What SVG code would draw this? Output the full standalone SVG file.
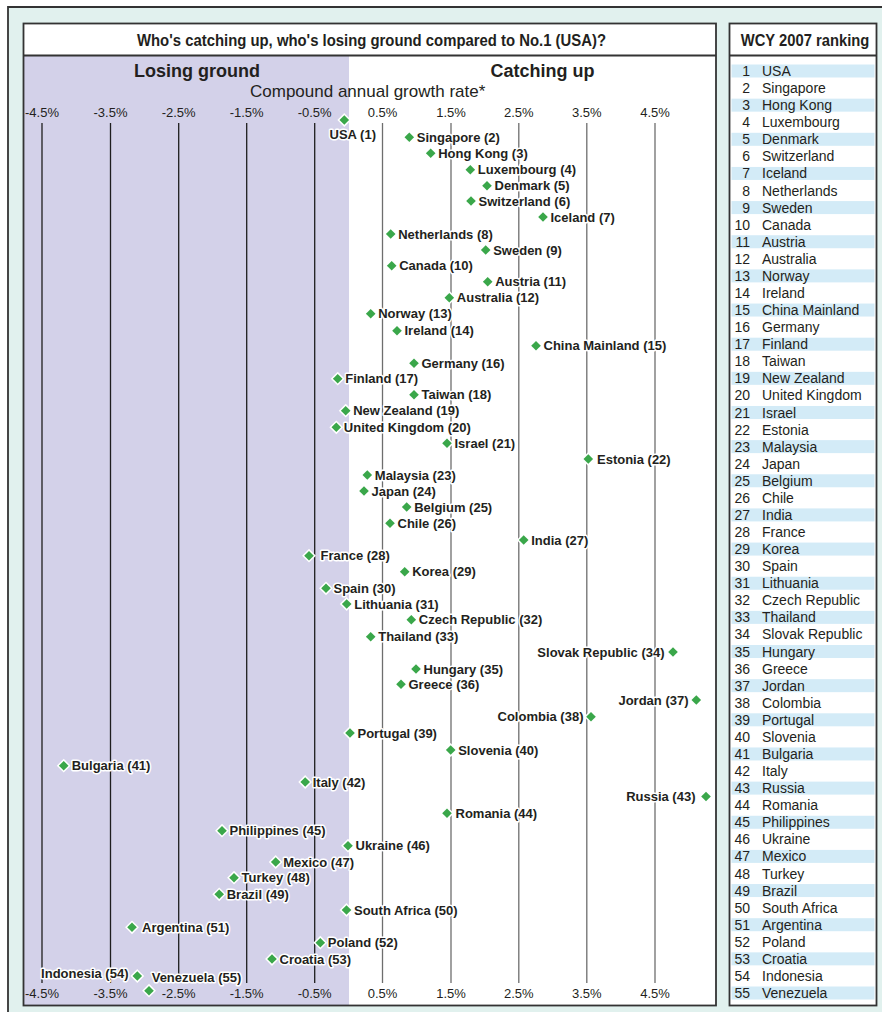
<svg xmlns="http://www.w3.org/2000/svg" xmlns:xlink="http://www.w3.org/1999/xlink" width="882" height="1012" viewBox="0 0 882 1012">
<style>
.fr{fill:none;stroke:#333;stroke-width:1.8}
.gk{stroke:#1e1e1e;stroke-width:1.3}
.gg{stroke:#6e6e6e;stroke-width:1.3}
.ax{font-family:"Liberation Sans",Arial,sans-serif;font-size:13px;fill:#231f20;text-anchor:middle}
.ttl{font-family:"Liberation Sans Narrow","Liberation Sans",Arial,sans-serif;font-weight:bold;font-size:16px;fill:#231f20}
.hd{font-family:"Liberation Sans",Arial,sans-serif;font-weight:bold;font-size:18px;fill:#231f20;text-anchor:middle}
.sub{font-family:"Liberation Sans",Arial,sans-serif;font-size:17px;fill:#231f20}
.l{font-family:"Liberation Sans",Arial,sans-serif;font-weight:bold;font-size:13px;fill:#231f20;stroke:#fff;stroke-width:3;stroke-linejoin:round;paint-order:stroke}
.e{text-anchor:end}
.rn{font-family:"Liberation Sans",Arial,sans-serif;font-size:14px;fill:#231f20;text-anchor:end}
.rt{font-family:"Liberation Sans",Arial,sans-serif;font-size:14px;fill:#231f20}
.st{fill:#d3ebf7}
.d{fill:#3aa74a;stroke:#fff;stroke-width:3;stroke-linejoin:miter;paint-order:stroke}
</style>
<defs>
<path id="dm" class="d" d="M0,-4.8 L4.8,0 L0,4.8 L-4.8,0Z"/>
</defs>
<rect x="0" y="0" width="882" height="1012" fill="#fff"/>
<rect x="8" y="7" width="874" height="1005" fill="#e1f1ee"/>
<path d="M8,1012 V7 H882" class="fr"/>
<!-- main chart box -->
<rect x="23.5" y="23.5" width="692.5" height="982" fill="#fff"/>
<rect x="23.5" y="55.5" width="325.5" height="950" fill="#d3d1e9"/>
<text class="ttl" x="137" y="46" textLength="469" lengthAdjust="spacingAndGlyphs">Who's catching up, who's losing ground compared to No.1 (USA)?</text>
<text class="hd" x="197" y="76.5">Losing ground</text>
<text class="hd" x="542.5" y="76.5">Catching up</text>
<text class="sub" x="250" y="96.5">Compound annual growth rate*</text>
<g id="grid">
<line class="gk" x1="42" y1="123" x2="42" y2="983"/>
<line class="gk" x1="110.5" y1="123" x2="110.5" y2="983"/>
<line class="gk" x1="178.7" y1="123" x2="178.7" y2="983"/>
<line class="gk" x1="246.7" y1="123" x2="246.7" y2="983"/>
<line class="gk" x1="314.7" y1="123" x2="314.7" y2="983"/>
<line class="gg" x1="382.5" y1="123" x2="382.5" y2="983"/>
<line class="gg" x1="451" y1="123" x2="451" y2="983"/>
<line class="gg" x1="518.8" y1="123" x2="518.8" y2="983"/>
<line class="gg" x1="586.8" y1="123" x2="586.8" y2="983"/>
<line class="gg" x1="655" y1="123" x2="655" y2="983"/>
</g>
<g id="axis-top">
<text class="ax" x="42" y="117.3">-4.5%</text>
<text class="ax" x="110.5" y="117.3">-3.5%</text>
<text class="ax" x="178.7" y="117.3">-2.5%</text>
<text class="ax" x="246.7" y="117.3">-1.5%</text>
<text class="ax" x="314.7" y="117.3">-0.5%</text>
<text class="ax" x="382.5" y="117.3">0.5%</text>
<text class="ax" x="451" y="117.3">1.5%</text>
<text class="ax" x="518.8" y="117.3">2.5%</text>
<text class="ax" x="586.8" y="117.3">3.5%</text>
<text class="ax" x="655" y="117.3">4.5%</text>
</g>
<g id="axis-bottom">
<text class="ax" x="42" y="997.5">-4.5%</text>
<text class="ax" x="110.5" y="997.5">-3.5%</text>
<text class="ax" x="178.7" y="997.5">-2.5%</text>
<text class="ax" x="246.7" y="997.5">-1.5%</text>
<text class="ax" x="314.7" y="997.5">-0.5%</text>
<text class="ax" x="382.5" y="997.5">0.5%</text>
<text class="ax" x="451" y="997.5">1.5%</text>
<text class="ax" x="518.8" y="997.5">2.5%</text>
<text class="ax" x="586.8" y="997.5">3.5%</text>
<text class="ax" x="655" y="997.5">4.5%</text>
</g>
<g id="connectors"></g>
<g id="points">
<g id="p1"><use xlink:href="#dm" href="#dm" x="344.3" y="120"/><text class="l" x="329.5" y="138.7">USA (1)</text></g>
<g id="p2"><use xlink:href="#dm" href="#dm" x="409.3" y="137.3"/><text class="l" x="416.8" y="142">Singapore (2)</text></g>
<g id="p3"><use xlink:href="#dm" href="#dm" x="430.7" y="153.3"/><text class="l" x="438.2" y="158">Hong Kong (3)</text></g>
<g id="p4"><use xlink:href="#dm" href="#dm" x="470.3" y="169.7"/><text class="l" x="477.8" y="174.4">Luxembourg (4)</text></g>
<g id="p5"><use xlink:href="#dm" href="#dm" x="487" y="185.7"/><text class="l" x="494.5" y="190.4">Denmark (5)</text></g>
<g id="p6"><use xlink:href="#dm" href="#dm" x="471" y="201"/><text class="l" x="478.5" y="205.7">Switzerland (6)</text></g>
<g id="p7"><use xlink:href="#dm" href="#dm" x="543" y="217"/><text class="l" x="550.5" y="221.7">Iceland (7)</text></g>
<g id="p8"><use xlink:href="#dm" href="#dm" x="390.7" y="234"/><text class="l" x="398.2" y="238.7">Netherlands (8)</text></g>
<g id="p9"><use xlink:href="#dm" href="#dm" x="485.7" y="250"/><text class="l" x="493.2" y="254.7">Sweden (9)</text></g>
<g id="p10"><use xlink:href="#dm" href="#dm" x="391.7" y="265.7"/><text class="l" x="399.2" y="270.4">Canada (10)</text></g>
<g id="p11"><use xlink:href="#dm" href="#dm" x="487.7" y="281.7"/><text class="l" x="495.2" y="286.4">Austria (11)</text></g>
<g id="p12"><use xlink:href="#dm" href="#dm" x="449.3" y="297.7"/><text class="l" x="456.8" y="302.4">Australia (12)</text></g>
<g id="p13"><use xlink:href="#dm" href="#dm" x="370.7" y="313.7"/><text class="l" x="378.2" y="318.4">Norway (13)</text></g>
<g id="p14"><use xlink:href="#dm" href="#dm" x="397" y="330.7"/><text class="l" x="404.5" y="335.4">Ireland (14)</text></g>
<g id="p15"><use xlink:href="#dm" href="#dm" x="536" y="345.7"/><text class="l" x="543.5" y="350.4">China Mainland (15)</text></g>
<g id="p16"><use xlink:href="#dm" href="#dm" x="414" y="363.3"/><text class="l" x="421.5" y="368">Germany (16)</text></g>
<g id="p17"><use xlink:href="#dm" href="#dm" x="337.7" y="378.7"/><text class="l" x="345.2" y="383.4">Finland (17)</text></g>
<g id="p18"><use xlink:href="#dm" href="#dm" x="414" y="394.7"/><text class="l" x="421.5" y="399.4">Taiwan (18)</text></g>
<g id="p19"><use xlink:href="#dm" href="#dm" x="345.7" y="410.7"/><text class="l" x="353.2" y="415.4">New Zealand (19)</text></g>
<g id="p20"><use xlink:href="#dm" href="#dm" x="336.3" y="427.3"/><text class="l" x="343.8" y="432">United Kingdom (20)</text></g>
<g id="p21"><use xlink:href="#dm" href="#dm" x="447" y="443.3"/><text class="l" x="454.5" y="448">Israel (21)</text></g>
<g id="p22"><use xlink:href="#dm" href="#dm" x="588.3" y="459"/><text class="l" x="597" y="463.7">Estonia (22)</text></g>
<g id="p23"><use xlink:href="#dm" href="#dm" x="367.3" y="475"/><text class="l" x="374.8" y="479.7">Malaysia (23)</text></g>
<g id="p24"><use xlink:href="#dm" href="#dm" x="364" y="491"/><text class="l" x="371.5" y="495.7">Japan (24)</text></g>
<g id="p25"><use xlink:href="#dm" href="#dm" x="406.7" y="507"/><text class="l" x="414.2" y="511.7">Belgium (25)</text></g>
<g id="p26"><use xlink:href="#dm" href="#dm" x="390" y="523.3"/><text class="l" x="397.5" y="528">Chile (26)</text></g>
<g id="p27"><use xlink:href="#dm" href="#dm" x="523.7" y="540"/><text class="l" x="531.2" y="544.7">India (27)</text></g>
<g id="p28"><use xlink:href="#dm" href="#dm" x="309" y="555.7"/><text class="l" x="320.5" y="560.4">France (28)</text></g>
<g id="p29"><use xlink:href="#dm" href="#dm" x="404.7" y="571.7"/><text class="l" x="412.2" y="576.4">Korea (29)</text></g>
<g id="p30"><use xlink:href="#dm" href="#dm" x="326" y="588.3"/><text class="l" x="333.5" y="593">Spain (30)</text></g>
<g id="p31"><use xlink:href="#dm" href="#dm" x="346.7" y="604"/><text class="l" x="354.2" y="608.7">Lithuania (31)</text></g>
<g id="p32"><use xlink:href="#dm" href="#dm" x="411.3" y="619.7"/><text class="l" x="418.8" y="624.4">Czech Republic (32)</text></g>
<g id="p33"><use xlink:href="#dm" href="#dm" x="370.7" y="636.7"/><text class="l" x="378.2" y="641.4">Thailand (33)</text></g>
<g id="p34"><use xlink:href="#dm" href="#dm" x="673" y="652"/><text class="l e" x="664.5" y="656.7">Slovak Republic (34)</text></g>
<g id="p35"><use xlink:href="#dm" href="#dm" x="416" y="669"/><text class="l" x="423.5" y="673.7">Hungary (35)</text></g>
<g id="p36"><use xlink:href="#dm" href="#dm" x="401" y="684.3"/><text class="l" x="408.5" y="689">Greece (36)</text></g>
<g id="p37"><use xlink:href="#dm" href="#dm" x="696.3" y="700"/><text class="l e" x="688.5" y="704.7">Jordan (37)</text></g>
<g id="p38"><use xlink:href="#dm" href="#dm" x="591" y="716.7"/><text class="l e" x="583.5" y="721.4">Colombia (38)</text></g>
<g id="p39"><use xlink:href="#dm" href="#dm" x="350" y="733"/><text class="l" x="357.5" y="737.7">Portugal (39)</text></g>
<g id="p40"><use xlink:href="#dm" href="#dm" x="450.7" y="750"/><text class="l" x="458.2" y="754.7">Slovenia (40)</text></g>
<g id="p41"><use xlink:href="#dm" href="#dm" x="63.7" y="765.7"/><text class="l" x="71.7" y="770.4">Bulgaria (41)</text></g>
<g id="p42"><use xlink:href="#dm" href="#dm" x="305.2" y="782"/><text class="l" x="312.7" y="786.7">Italy (42)</text></g>
<g id="p43"><use xlink:href="#dm" href="#dm" x="706" y="796.5"/><text class="l e" x="695.5" y="801.2">Russia (43)</text></g>
<g id="p44"><use xlink:href="#dm" href="#dm" x="447" y="813.3"/><text class="l" x="455.5" y="818">Romania (44)</text></g>
<g id="p45"><use xlink:href="#dm" href="#dm" x="222" y="830.7"/><text class="l" x="229.5" y="835.4">Philippines (45)</text></g>
<g id="p46"><use xlink:href="#dm" href="#dm" x="348" y="845.7"/><text class="l" x="355.5" y="850.4">Ukraine (46)</text></g>
<g id="p47"><use xlink:href="#dm" href="#dm" x="275.7" y="862"/><text class="l" x="283.2" y="866.7">Mexico (47)</text></g>
<g id="p48"><use xlink:href="#dm" href="#dm" x="234" y="877.7"/><text class="l" x="241.5" y="882.4">Turkey (48)</text></g>
<g id="p49"><use xlink:href="#dm" href="#dm" x="219.2" y="894.3"/><text class="l" x="226.7" y="899">Brazil (49)</text></g>
<g id="p50"><use xlink:href="#dm" href="#dm" x="346.5" y="910"/><text class="l" x="354" y="914.7">South Africa (50)</text></g>
<g id="p51"><use xlink:href="#dm" href="#dm" x="132" y="927.3"/><text class="l" x="142" y="932">Argentina (51)</text></g>
<g id="p52"><use xlink:href="#dm" href="#dm" x="320.3" y="942.7"/><text class="l" x="327.8" y="947.4">Poland (52)</text></g>
<g id="p53"><use xlink:href="#dm" href="#dm" x="272" y="959"/><text class="l" x="279.5" y="963.7">Croatia (53)</text></g>
<g id="p54"><use xlink:href="#dm" href="#dm" x="137.3" y="976"/><text class="l e" x="128.5" y="978.4">Indonesia (54)</text></g>
<g id="p55"><use xlink:href="#dm" href="#dm" x="149" y="990.7"/><text class="l" x="151.7" y="982">Venezuela (55)</text></g>
</g>
<line x1="23.5" y1="55.5" x2="716" y2="55.5" stroke="#333" stroke-width="1.8"/>
<rect class="fr" x="23.5" y="23.5" width="692.5" height="982"/>
<!-- ranking panel -->
<g id="ranking">
<rect x="729.5" y="23.5" width="147" height="982" fill="#fff"/>
<g id="stripes">
<rect class="st" x="731.5" y="64.5" width="143" height="13"/>
<rect class="st" x="731.5" y="98.65" width="143" height="13"/>
<rect class="st" x="731.5" y="132.8" width="143" height="13"/>
<rect class="st" x="731.5" y="166.94" width="143" height="13"/>
<rect class="st" x="731.5" y="201.09" width="143" height="13"/>
<rect class="st" x="731.5" y="235.24" width="143" height="13"/>
<rect class="st" x="731.5" y="269.39" width="143" height="13"/>
<rect class="st" x="731.5" y="303.54" width="143" height="13"/>
<rect class="st" x="731.5" y="337.68" width="143" height="13"/>
<rect class="st" x="731.5" y="371.83" width="143" height="13"/>
<rect class="st" x="731.5" y="405.98" width="143" height="13"/>
<rect class="st" x="731.5" y="440.13" width="143" height="13"/>
<rect class="st" x="731.5" y="474.28" width="143" height="13"/>
<rect class="st" x="731.5" y="508.42" width="143" height="13"/>
<rect class="st" x="731.5" y="542.57" width="143" height="13"/>
<rect class="st" x="731.5" y="576.72" width="143" height="13"/>
<rect class="st" x="731.5" y="610.87" width="143" height="13"/>
<rect class="st" x="731.5" y="645.02" width="143" height="13"/>
<rect class="st" x="731.5" y="679.16" width="143" height="13"/>
<rect class="st" x="731.5" y="713.31" width="143" height="13"/>
<rect class="st" x="731.5" y="747.46" width="143" height="13"/>
<rect class="st" x="731.5" y="781.61" width="143" height="13"/>
<rect class="st" x="731.5" y="815.76" width="143" height="13"/>
<rect class="st" x="731.5" y="849.9" width="143" height="13"/>
<rect class="st" x="731.5" y="884.05" width="143" height="13"/>
<rect class="st" x="731.5" y="918.2" width="143" height="13"/>
<rect class="st" x="731.5" y="952.35" width="143" height="13"/>
<rect class="st" x="731.5" y="986.5" width="143" height="13"/>
</g>
<text class="ttl" x="740.7" y="46" textLength="128.6" lengthAdjust="spacingAndGlyphs">WCY 2007 ranking</text>
<line x1="729.5" y1="55.5" x2="876.5" y2="55.5" stroke="#333" stroke-width="1.8"/>
<g id="r1"><text class="rn" x="750" y="76">1</text><text class="rt" x="762" y="76">USA</text></g>
<g id="r2"><text class="rn" x="750" y="93.1">2</text><text class="rt" x="762" y="93.1">Singapore</text></g>
<g id="r3"><text class="rn" x="750" y="110.1">3</text><text class="rt" x="762" y="110.1">Hong Kong</text></g>
<g id="r4"><text class="rn" x="750" y="127.2">4</text><text class="rt" x="762" y="127.2">Luxembourg</text></g>
<g id="r5"><text class="rn" x="750" y="144.3">5</text><text class="rt" x="762" y="144.3">Denmark</text></g>
<g id="r6"><text class="rn" x="750" y="161.4">6</text><text class="rt" x="762" y="161.4">Switzerland</text></g>
<g id="r7"><text class="rn" x="750" y="178.4">7</text><text class="rt" x="762" y="178.4">Iceland</text></g>
<g id="r8"><text class="rn" x="750" y="195.5">8</text><text class="rt" x="762" y="195.5">Netherlands</text></g>
<g id="r9"><text class="rn" x="750" y="212.6">9</text><text class="rt" x="762" y="212.6">Sweden</text></g>
<g id="r10"><text class="rn" x="750" y="229.7">10</text><text class="rt" x="762" y="229.7">Canada</text></g>
<g id="r11"><text class="rn" x="750" y="246.7">11</text><text class="rt" x="762" y="246.7">Austria</text></g>
<g id="r12"><text class="rn" x="750" y="263.8">12</text><text class="rt" x="762" y="263.8">Australia</text></g>
<g id="r13"><text class="rn" x="750" y="280.9">13</text><text class="rt" x="762" y="280.9">Norway</text></g>
<g id="r14"><text class="rn" x="750" y="298">14</text><text class="rt" x="762" y="298">Ireland</text></g>
<g id="r15"><text class="rn" x="750" y="315">15</text><text class="rt" x="762" y="315">China Mainland</text></g>
<g id="r16"><text class="rn" x="750" y="332.1">16</text><text class="rt" x="762" y="332.1">Germany</text></g>
<g id="r17"><text class="rn" x="750" y="349.2">17</text><text class="rt" x="762" y="349.2">Finland</text></g>
<g id="r18"><text class="rn" x="750" y="366.3">18</text><text class="rt" x="762" y="366.3">Taiwan</text></g>
<g id="r19"><text class="rn" x="750" y="383.3">19</text><text class="rt" x="762" y="383.3">New Zealand</text></g>
<g id="r20"><text class="rn" x="750" y="400.4">20</text><text class="rt" x="762" y="400.4">United Kingdom</text></g>
<g id="r21"><text class="rn" x="750" y="417.5">21</text><text class="rt" x="762" y="417.5">Israel</text></g>
<g id="r22"><text class="rn" x="750" y="434.6">22</text><text class="rt" x="762" y="434.6">Estonia</text></g>
<g id="r23"><text class="rn" x="750" y="451.6">23</text><text class="rt" x="762" y="451.6">Malaysia</text></g>
<g id="r24"><text class="rn" x="750" y="468.7">24</text><text class="rt" x="762" y="468.7">Japan</text></g>
<g id="r25"><text class="rn" x="750" y="485.8">25</text><text class="rt" x="762" y="485.8">Belgium</text></g>
<g id="r26"><text class="rn" x="750" y="502.9">26</text><text class="rt" x="762" y="502.9">Chile</text></g>
<g id="r27"><text class="rn" x="750" y="519.9">27</text><text class="rt" x="762" y="519.9">India</text></g>
<g id="r28"><text class="rn" x="750" y="537">28</text><text class="rt" x="762" y="537">France</text></g>
<g id="r29"><text class="rn" x="750" y="554.1">29</text><text class="rt" x="762" y="554.1">Korea</text></g>
<g id="r30"><text class="rn" x="750" y="571.1">30</text><text class="rt" x="762" y="571.1">Spain</text></g>
<g id="r31"><text class="rn" x="750" y="588.2">31</text><text class="rt" x="762" y="588.2">Lithuania</text></g>
<g id="r32"><text class="rn" x="750" y="605.3">32</text><text class="rt" x="762" y="605.3">Czech Republic</text></g>
<g id="r33"><text class="rn" x="750" y="622.4">33</text><text class="rt" x="762" y="622.4">Thailand</text></g>
<g id="r34"><text class="rn" x="750" y="639.4">34</text><text class="rt" x="762" y="639.4">Slovak Republic</text></g>
<g id="r35"><text class="rn" x="750" y="656.5">35</text><text class="rt" x="762" y="656.5">Hungary</text></g>
<g id="r36"><text class="rn" x="750" y="673.6">36</text><text class="rt" x="762" y="673.6">Greece</text></g>
<g id="r37"><text class="rn" x="750" y="690.7">37</text><text class="rt" x="762" y="690.7">Jordan</text></g>
<g id="r38"><text class="rn" x="750" y="707.7">38</text><text class="rt" x="762" y="707.7">Colombia</text></g>
<g id="r39"><text class="rn" x="750" y="724.8">39</text><text class="rt" x="762" y="724.8">Portugal</text></g>
<g id="r40"><text class="rn" x="750" y="741.9">40</text><text class="rt" x="762" y="741.9">Slovenia</text></g>
<g id="r41"><text class="rn" x="750" y="759">41</text><text class="rt" x="762" y="759">Bulgaria</text></g>
<g id="r42"><text class="rn" x="750" y="776">42</text><text class="rt" x="762" y="776">Italy</text></g>
<g id="r43"><text class="rn" x="750" y="793.1">43</text><text class="rt" x="762" y="793.1">Russia</text></g>
<g id="r44"><text class="rn" x="750" y="810.2">44</text><text class="rt" x="762" y="810.2">Romania</text></g>
<g id="r45"><text class="rn" x="750" y="827.3">45</text><text class="rt" x="762" y="827.3">Philippines</text></g>
<g id="r46"><text class="rn" x="750" y="844.3">46</text><text class="rt" x="762" y="844.3">Ukraine</text></g>
<g id="r47"><text class="rn" x="750" y="861.4">47</text><text class="rt" x="762" y="861.4">Mexico</text></g>
<g id="r48"><text class="rn" x="750" y="878.5">48</text><text class="rt" x="762" y="878.5">Turkey</text></g>
<g id="r49"><text class="rn" x="750" y="895.6">49</text><text class="rt" x="762" y="895.6">Brazil</text></g>
<g id="r50"><text class="rn" x="750" y="912.6">50</text><text class="rt" x="762" y="912.6">South Africa</text></g>
<g id="r51"><text class="rn" x="750" y="929.7">51</text><text class="rt" x="762" y="929.7">Argentina</text></g>
<g id="r52"><text class="rn" x="750" y="946.8">52</text><text class="rt" x="762" y="946.8">Poland</text></g>
<g id="r53"><text class="rn" x="750" y="963.8">53</text><text class="rt" x="762" y="963.8">Croatia</text></g>
<g id="r54"><text class="rn" x="750" y="980.9">54</text><text class="rt" x="762" y="980.9">Indonesia</text></g>
<g id="r55"><text class="rn" x="750" y="998">55</text><text class="rt" x="762" y="998">Venezuela</text></g>
<rect class="fr" x="729.5" y="23.5" width="147" height="982"/>
</g>
</svg>
